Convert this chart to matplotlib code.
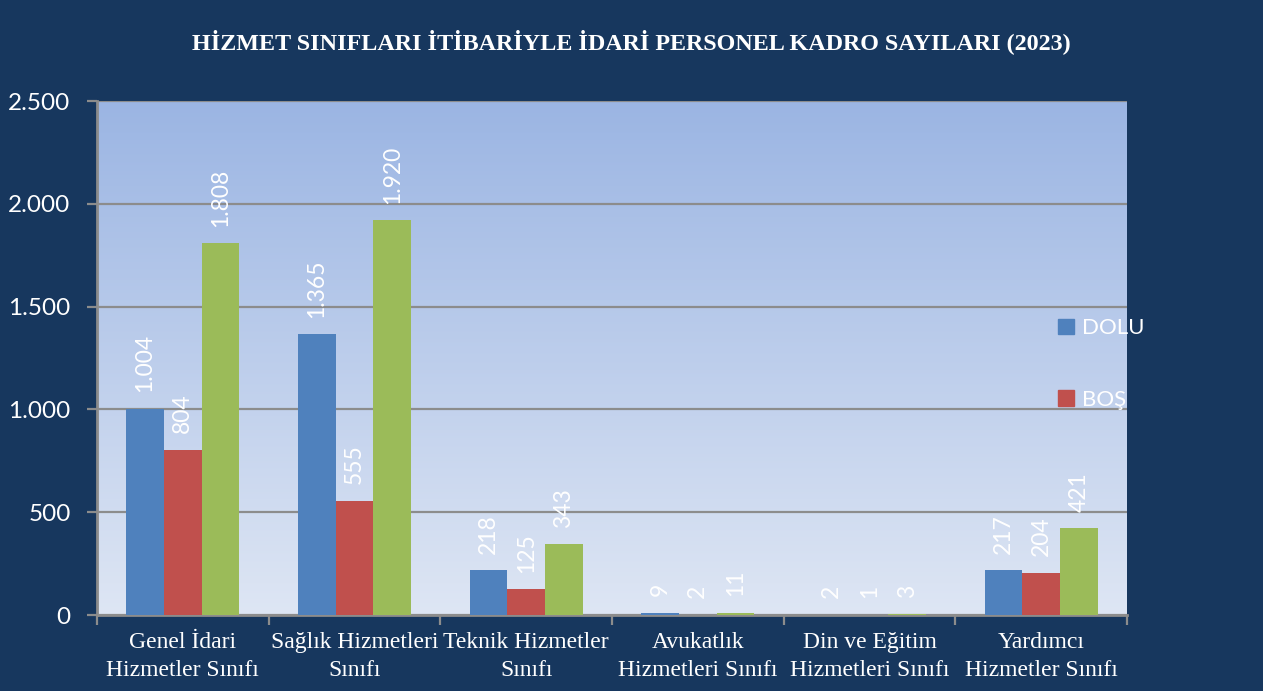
import matplotlib.pyplot as plt
import numpy as np
from matplotlib.colors import LinearSegmentedColormap
from matplotlib.patches import Patch

# data
categories = ['Genel İdari\nHizmetler Sınıfı', 'Sağlık Hizmetleri\nSınıfı',
              'Teknik Hizmetler\nSınıfı', 'Avukatlık\nHizmetleri Sınıfı',
              'Din ve Eğitim\nHizmetleri Sınıfı', 'Yardımcı\nHizmetler Sınıfı']
dolu = [1004, 1365, 218, 9, 2, 217]
bos = [804, 555, 125, 2, 1, 204]
toplam = [1808, 1920, 343, 11, 3, 421]
y_ticks = [0, 500, 1000, 1500, 2000, 2500]

bg = '#17375E'
c_dolu, c_bos, c_top = '#4F81BD', '#C0504D', '#9BBB59'
grid_c = '#8C8C8C'

def fmt(v):
    return f'{v:,}'.replace(',', '.')

fig = plt.figure(figsize=(12.63, 6.91), dpi=100, facecolor=bg)
ax = fig.add_axes([97 / 1263, 1 - 615 / 691, 1030 / 1263, 514 / 691])

# gradient plot area
cmap = LinearSegmentedColormap.from_list('pa', ['#DEE6F4', '#9BB5E3'])
grad = np.linspace(0, 1, 256).reshape(-1, 1)
ax.imshow(grad, cmap=cmap, aspect='auto', origin='lower',
          extent=[0, 1, 0, 1], transform=ax.transAxes, zorder=0)

x = np.arange(len(categories))
w = 0.22
series = [(dolu, c_dolu, 'DOLU'), (bos, c_bos, 'BOŞ'), (toplam, c_top, 'TOPLAM')]
for i, (vals, col, name) in enumerate(series):
    bars = ax.bar(x + (i - 1) * w, vals, w, color=col, zorder=3)
    for b, v in zip(bars, vals):
        ax.annotate(fmt(v), (b.get_x() + b.get_width() / 2, v),
                    xytext=(0, 12), textcoords='offset points',
                    rotation=90, ha='center', va='bottom', color='white',
                    fontsize=16.5, family=['Lato', 'DejaVu Sans'],
                    zorder=5, annotation_clip=False)

ax.set_xlim(-0.5, len(categories) - 0.5)
ax.set_ylim(0, 2500)
ax.set_yticks(y_ticks)
ax.set_yticklabels([fmt(t) for t in y_ticks], color='white', fontsize=17.5,
                   family=['Lato', 'DejaVu Sans'])
ax.yaxis.grid(True, color=grid_c, linewidth=1.6, zorder=1)
ax.set_axisbelow(True)

ax.set_xticks(x)
ax.set_xticklabels(categories, color='white', fontsize=17,
                   family=['Liberation Serif'], linespacing=1.45)
ax.tick_params(axis='x', which='major', length=0, pad=12)
ax.set_xticks(np.arange(-0.5, len(categories)), minor=True)
ax.tick_params(axis='x', which='minor', length=7, width=1.6, color=grid_c)
ax.tick_params(axis='y', length=7, width=1.6, color=grid_c, pad=12)

for s in ['top', 'right']:
    ax.spines[s].set_visible(False)
for s in ['left', 'bottom']:
    ax.spines[s].set_color(grid_c)
    ax.spines[s].set_linewidth(2)

fig.text(0.5, 1 - 42 / 691, 'HİZMET SINIFLARI İTİBARİYLE İDARİ PERSONEL KADRO SAYILARI (2023)',
         ha='center', va='center', color='white', fontsize=17.4,
         fontweight='bold', family=['Liberation Serif'])

handles = [Patch(color=c_dolu, label='DOLU'), Patch(color=c_bos, label='BOŞ')]
fig.legend(handles=handles, loc='center left', bbox_to_anchor=(1038 / 1263, 1 - 364 / 691),
           frameon=False, labelcolor='white', handlelength=0.7, handleheight=0.7,
           handletextpad=0.4, labelspacing=2.3,
           prop={'family': ['Lato', 'DejaVu Sans'], 'size': 16})

fig.savefig('out.png', dpi=100, facecolor=bg)
